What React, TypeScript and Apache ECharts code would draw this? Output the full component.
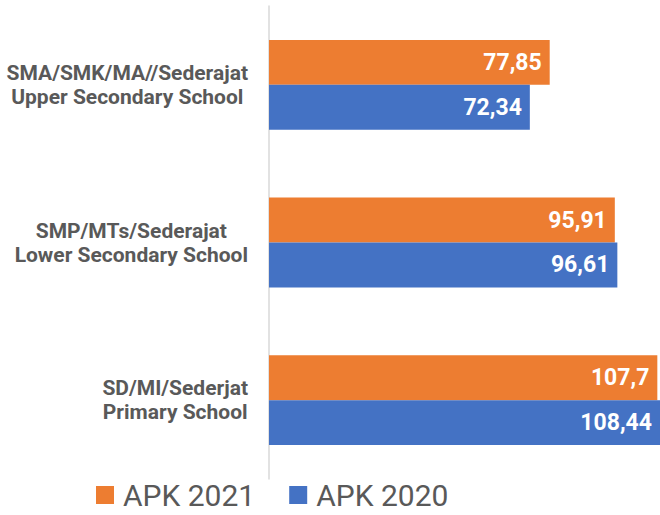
import React, { useEffect, useRef } from "react";
import * as echarts from "echarts";

const categories = [
  "SMA/SMK/MA//Sederajat\nUpper Secondary School",
  "SMP/MTs/Sederajat\nLower Secondary School",
  "SD/MI/Sederjat\nPrimary School",
];
const seriesNames = ["APK 2021", "APK 2020"];
const apk2021 = [77.85, 95.91, 107.7];
const apk2020 = [72.34, 96.61, 108.44];
const colors = ["#ED7D31", "#4472C4"];

export default function App() {
  const ref = useRef<HTMLDivElement>(null);
  useEffect(() => {
    document.body.style.margin = "0";
    const chart = echarts.init(ref.current!, null, { renderer: "svg" });
    const label = {
      show: true,
      position: "insideRight",
      distance: 8,
      color: "#ffffff",
      fontSize: 23,
      fontWeight: "bold",
      fontFamily: "Roboto",
      formatter: (p: any) => String(p.value).replace(".", ","),
    };
    const catStyle = {
      fontSize: 21,
      lineHeight: 24,
      fontWeight: "bold",
      color: "#595959",
      fontFamily: "Roboto",
      align: "center",
    };
    chart.setOption({
      animation: false,
      color: colors,
      grid: { left: 269, right: 0, top: 6, bottom: 36, containLabel: false },
      legend: {
        bottom: 0,
        left: 91,
        itemWidth: 18,
        itemHeight: 18,
        itemGap: 34,
        icon: "rect",
        textStyle: { fontSize: 30, color: "#595959", fontFamily: "Roboto", padding: [0, 0, 0, 4] },
        data: seriesNames,
      },
      xAxis: { type: "value", min: 0, max: 108.44, show: false },
      yAxis: {
        type: "category",
        inverse: true,
        data: categories,
        axisLine: { show: true, lineStyle: { color: "#D9D9D9", width: 1.5 } },
        axisTick: { show: false },
        axisLabel: {
          margin: 21,
          align: "right",
          fontSize: 21,
          lineHeight: 24,
          fontWeight: "bold",
          color: "#595959",
          fontFamily: "Roboto",
          formatter: (v: string) =>
            v
              .split("\n")
              .map((l) => `{c|${l}}`)
              .join("\n"),
          rich: { c: catStyle },
        },
      },
      series: [
        {
          name: seriesNames[0],
          type: "bar",
          data: apk2021,
          barGap: "0%",
          barCategoryGap: "43%",
          label,
        },
        {
          name: seriesNames[1],
          type: "bar",
          data: apk2020,
          barGap: "0%",
          barCategoryGap: "43%",
          label,
        },
      ],
    });
    return () => chart.dispose();
  }, []);
  return <div ref={ref} style={{ width: 660, height: 515 }} />;
}
